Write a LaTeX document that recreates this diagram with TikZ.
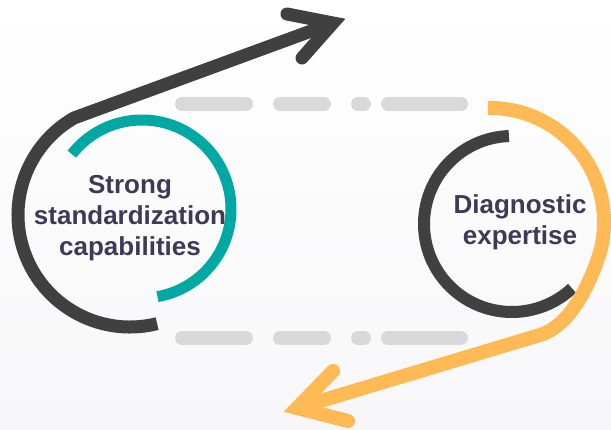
\documentclass[tikz,border=0pt]{standalone}
\usepackage{fontspec}
\setmainfont{Liberation Sans}
\usepackage{xcolor}
\definecolor{darkgrey}{HTML}{404040}
\definecolor{tealring}{HTML}{00A8A4}
\definecolor{orangering}{HTML}{FFB955}
\definecolor{gapgrey}{HTML}{D9D9D9}
\definecolor{textgrey}{HTML}{3D3A58}
\definecolor{bggrey}{HTML}{F7F7F9}

\begin{document}
\begin{tikzpicture}[x=1pt,y=1pt,
    ring/.style={line width=12pt},
    arrowline/.style={line width=13pt, line join=miter},
    arrowhead/.style={line width=13pt, line join=miter, line cap=round},
    gapline/.style={gapgrey, line width=14pt, line cap=round},
    ringtext/.style={textgrey, font=\fontsize{26}{31}\selectfont\bfseries, align=center}]
        \clip (0,0) rectangle (611,430);
        \shade[top color=white, bottom color=bggrey] (0,0) rectangle (611,430);
        \coordinate(lc) at (130,215);
        \coordinate(tc) at (142,221);
        \coordinate(rc) at (512,206);
        \coordinate(oc) at (490,208);
        \coordinate(ltip) at (333,407);
        \coordinate(lw1) at (287,416);
        \coordinate(lw2) at (302,372);
        \coordinate(oj) at (540,95);
        \coordinate(otip) at (297,22);
        \coordinate(ow1) at (333,59);
        \coordinate(ow2) at (348,9);
        \draw[gapline] (182,326) -- (246,326) (280,326) -- (324,326) (358,326) -- (364,326) (388,326) -- (461,326);
        \draw[gapline] (182,92) -- (246,92) (280,92) -- (324,92) (358,92) -- (364,92) (388,92) -- (461,92);
        \draw[tealring, ring, line width=11pt] (tc) ++(142:89pt) arc[start angle=142, end angle=-80, radius=89pt];
        \draw[darkgrey, arrowline] (lc) ++(-76:112pt) arc[start angle=-76, end angle=-240, radius=112pt] -- (ltip);
        \draw[darkgrey, arrowhead] (lw1) -- (ltip) -- (lw2);
        \draw[darkgrey, ring] (rc) ++(92:88pt) arc[start angle=92, end angle=313, radius=88pt];
        \draw[orangering, arrowline, line width=14pt] (oc) ++(91:114pt) arc[start angle=91, end angle=-20, radius=114pt]
            .. controls (587,141) and (569,104) .. (oj) -- (otip);
        \draw[orangering, arrowhead, line width=14pt] (ow1) -- (otip) -- (ow2);
        \node[ringtext](strong) at (130,212) {Strong\\standardization\\capabilities};
        \node[ringtext](diag) at (520,208) {Diagnostic\\expertise};
\end{tikzpicture}
\end{document}
